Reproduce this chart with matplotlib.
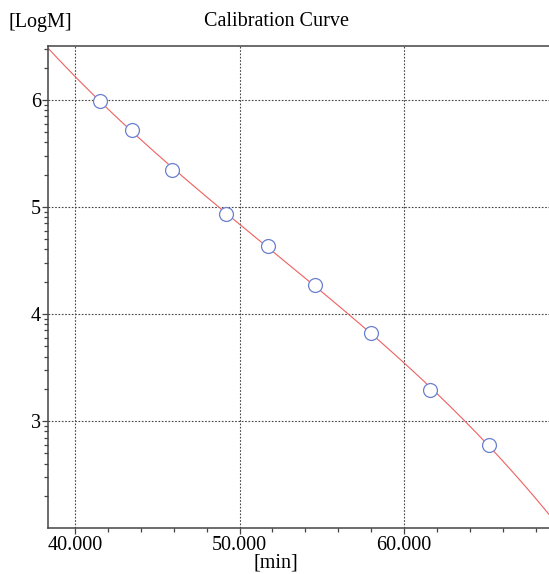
import matplotlib
matplotlib.use("Agg")
import matplotlib.pyplot as plt
import numpy as np

# retention time [min] and log molecular weight of the standards
ret_time = [41.51, 43.46, 45.90, 49.15, 51.75, 54.59, 58.00, 61.54, 65.17]
log_m = [5.990, 5.714, 5.348, 4.934, 4.633, 4.269, 3.825, 3.291, 2.775]

x_ticks = [40, 50, 60]
x_tick_labels = ["40.000", "50.000", "60.000"]
y_ticks = [3, 4, 5, 6]

plt.rcParams['font.family'] = ['Liberation Serif', 'DejaVu Serif']

fig = plt.figure(figsize=(5.49, 5.74), dpi=100)
ax = fig.add_axes([48 / 549, 46 / 574, 1 - 48 / 549, (528 - 46.3) / 574])

xmin, xmax = 38.36, 68.8
ymin, ymax = 2.0, 6.5

# calibration curve: 3rd order fit of the standards
coef = np.polyfit(ret_time, log_m, 3)
xs = np.linspace(xmin, xmax, 300)
ax.plot(xs, np.polyval(coef, xs), color='#f06060', lw=0.8, zorder=2)

ax.plot(ret_time, log_m, 'o', ms=10, mfc='white', mec='#6a7fd0', mew=0.9, zorder=3)

ax.set_xlim(xmin, xmax)
ax.set_ylim(ymin, ymax)

ax.set_xticks(x_ticks)
ax.set_xticklabels(x_tick_labels)
ax.set_xticks(np.arange(42, 69, 2), minor=True)
ax.set_yticks(y_ticks)
minor_y = [np.log10(m * 10.0 ** k) for k in range(1, 7) for m in range(2, 10)]
ax.set_yticks([v for v in minor_y if ymin < v < ymax], minor=True)

ax.tick_params(which='both', direction='out', colors='#444444', labelcolor='black',
               labelsize=14.5)
ax.tick_params(axis='x', pad=2)
ax.tick_params(axis='y', pad=1)
ax.tick_params(which='major', length=4, width=0.9)
ax.tick_params(which='minor', length=3, width=0.9)

ax.grid(True, which='major', color='#444444', lw=0.8, ls=(0, (1.5, 1.5)))

for side in ['left', 'bottom', 'top']:
    ax.spines[side].set_color('#444444')
    ax.spines[side].set_linewidth(1.1)
ax.spines['right'].set_visible(False)

fig.text(8 / 549, 1 - 22 / 574, "[LogM]", fontsize=14.5, ha='left', va='center')
fig.text(276 / 549, 1 - 22 / 574, "Calibration Curve", fontsize=14.5, ha='center', va='center')
fig.text(276 / 549, 1 - 563 / 574, "[min]", fontsize=14.5, ha='center', va='center')

fig.savefig("out.png", dpi=100)
